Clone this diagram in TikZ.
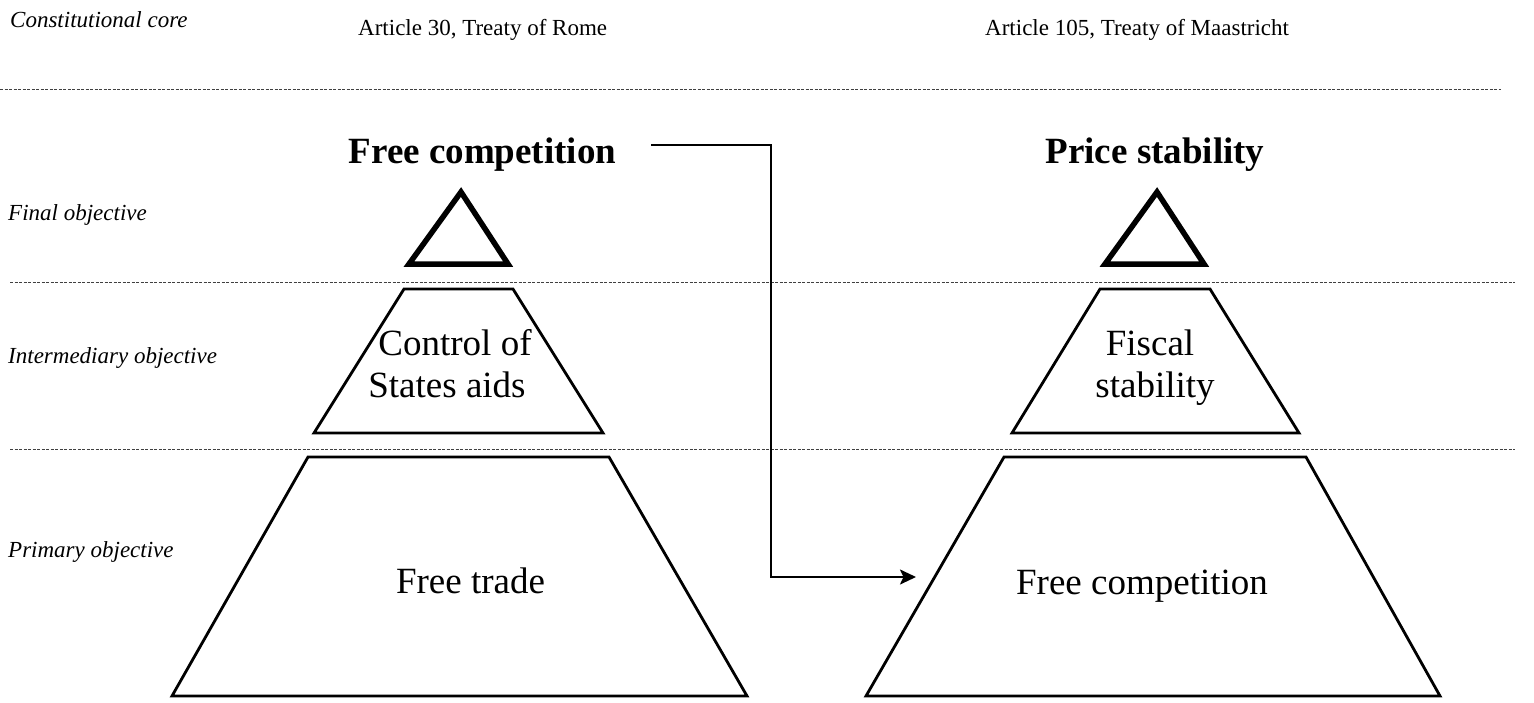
\documentclass[tikz,border=0pt]{standalone}
\usepackage{fontspec}
\setmainfont{Liberation Serif}
\usetikzlibrary{arrows.meta}
\tikzset{
  lvl/.style={font=\fontsize{23}{27}\selectfont\itshape, anchor=base west, inner sep=0pt},
  art/.style={font=\fontsize{23}{27}\selectfont, anchor=base west, inner sep=0pt},
  ttl/.style={font=\fontsize{37}{42}\selectfont\bfseries, anchor=base, inner sep=0pt},
  ptxt/.style={font=\fontsize{37}{42}\selectfont, anchor=base, inner sep=0pt},
  sep/.style={draw=black!75, line width=1pt, dash pattern=on 3pt off 1.5pt},
  tier/.style={draw=black, line width=2.8pt, line join=miter},
  apex/.style={draw=black, line width=5.5pt, line join=miter},
  conn/.style={draw=black, line width=2.2pt, -{Stealth[length=16pt,width=15pt,inset=3.5pt]}}
}
\begin{document}
\begin{tikzpicture}[x=1pt,y=-1pt]
\useasboundingbox (0,0) rectangle (1534,702);
% separators
\draw[sep] (0,89) -- (1501,89);
\draw[sep] (10,282) -- (1515,282);
\draw[sep] (10,449) -- (1515,449);
% level labels
\node[lvl] (lc) at (10,27) {Constitutional core};
\node[lvl] (lf) at (8,220) {Final objective};
\node[lvl] (li) at (8,363) {Intermediary objective};
\node[lvl] (lp) at (8,557) {Primary objective};
% articles
\node[art] (ar) at (358,35) {Article 30, Treaty of Rome};
\node[art] (am) at (985,35) {Article 105, Treaty of Maastricht};
% left pyramid
\draw[apex] (461,192) -- (508,264) -- (409,264) -- cycle;
\draw[tier] (404,289) -- (513,289) -- (603,433) -- (314,433) -- cycle;
\draw[tier] (308,457) -- (609,457) -- (747,696) -- (172,696) -- cycle;
% right pyramid
\draw[apex] (1157,192) -- (1204,264) -- (1105,264) -- cycle;
\draw[tier] (1100,289) -- (1210,289) -- (1299,433) -- (1012,433) -- cycle;
\draw[tier] (1004,457) -- (1306,457) -- (1440,696) -- (866,696) -- cycle;
% titles
\node[ttl] (fc) at (482.5,163) {Free competition};
\node[ttl] (ps) at (1155,163) {Price stability};
% pyramid texts
\node[ptxt] (csa1) at (455,355) {Control of};
\node[ptxt] (csa2) at (447,397) {States aids};
\node[ptxt] (fs1) at (1150,355) {Fiscal};
\node[ptxt] (fs2) at (1155,397) {stability};
\node[ptxt] (ft) at (470.5,593) {Free trade};
\node[ptxt] (fc2) at (1142,594) {Free competition};
% connector
\coordinate (a1) at (651,145);
\coordinate (bend) at (771,577);
\coordinate (a2) at (916,577);
\draw[conn] (a1) -| (bend) -- (a2);
\end{tikzpicture}
\end{document}
